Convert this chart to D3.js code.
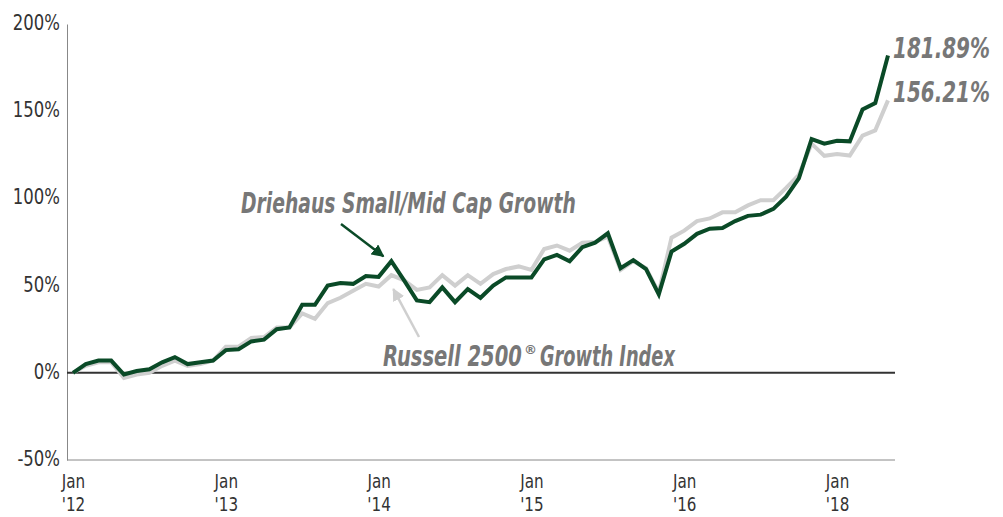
<!DOCTYPE html>
<html>
<head>
<meta charset="utf-8">
<script src="https://cdn.jsdelivr.net/npm/d3@7"></script>
<style>
  body { margin: 0; background: #fff; }
  svg { display: block; }
  .tick text { font-family: "DejaVu Sans", sans-serif; font-size: 22px; fill: #333; }
  .xlab { font-size: 20px !important; }
  .note { font-family: "DejaVu Sans", sans-serif; font-weight: bold; font-style: italic; fill: #777; }
</style>
</head>
<body>
<svg width="1003" height="517"></svg>
<script>
// monthly cumulative returns (%), Jan '12 onward
let driehaus = [0, 5, 7, 7, -1, 1, 2, 6, 9, 5, 6, 7,
    13, 13.5, 18, 19, 25, 26, 39, 39, 50, 51.5, 51, 55.5,
    55, 64, 53, 41.5, 40.5, 49, 40.5, 48, 43, 50, 54.7, 54.7,
    54.7, 65, 67.6, 64, 72, 74.6, 80, 60, 64.6, 59.5, 45, 69.5,
    74, 79.7, 82.6, 83, 87, 90, 90.7, 94, 101, 111.5, 134, 131.4,
    133, 132.7, 151, 154.7, 181.89];
let russell = [0, 4, 6, 6, -3, -1, 0, 4, 7, 4, 5, 7,
    15, 15, 20, 20.5, 26, 26, 34, 31, 40, 43, 47, 51,
    49.5, 56, 53, 47.5, 49, 56, 50, 56, 51, 56.6, 59.5, 61,
    59, 71, 73, 70, 74.6, 75, 78, 59, 64, 60, 46, 77.5,
    81.5, 87, 88.5, 92, 92, 96, 99, 99, 106, 113.5, 131.4, 124.4,
    125.5, 124.6, 136, 139, 156.21];
let tickIdx = [0, 12, 24, 36, 48, 60];
let tickYears = ["'12", "'13", "'14", "'15", "'16", "'18"];
let yTicks = [-50, 0, 50, 100, 150, 200];

let svg = d3.select("svg");
let plotLeft = 67, plotRight = 895, plotTop = 24, plotBottom = 460;

let x = d3.scaleLinear().domain([0, driehaus.length - 1]).range([73, 888]);
let y = d3.scaleLinear().domain([-50, 200]).range([plotBottom, plotTop]);

// the original uses a condensed face, so squeeze text horizontally.
// factor, or a target width in px when width is given
function condense(sel, factor, width) {
    sel.each(function () {
        let t = d3.select(this);
        let f = width ? width / this.getComputedTextLength() : factor;
        let px = +t.attr("x") || 0, py = +t.attr("y") || 0;
        t.attr("x", 0).attr("y", 0)
            .attr("transform", "translate(" + px + "," + py + ") scale(" + f + ",1)");
    });
}

// y axis
let yAxis = svg.append("g")
    .attr("transform", "translate(" + plotLeft + ",0)")
    .call(d3.axisLeft(y).tickValues(yTicks).tickSize(0).tickPadding(7).tickFormat(d => d + "%"));
yAxis.select(".domain").attr("stroke", "#888").attr("stroke-width", 1);
yAxis.selectAll(".tick text").attr("dy", "0.25em");
condense(yAxis.selectAll(".tick text"), 0.75);

// x axis, two-line labels
let xAxis = svg.append("g")
    .attr("transform", "translate(0," + plotBottom + ")")
    .call(d3.axisBottom(x).tickValues(tickIdx).tickSize(0).tickFormat(""));
xAxis.select(".domain").attr("d", "M" + plotLeft + ",0H" + plotRight).attr("stroke", "#888");
xAxis.selectAll(".tick text").remove();
xAxis.selectAll(".tick").each(function (d, i) {
    let g = d3.select(this);
    g.append("text").attr("class", "xlab").attr("text-anchor", "middle").attr("y", 28).text("Jan");
    g.append("text").attr("class", "xlab").attr("text-anchor", "middle").attr("y", 51).text(tickYears[i]);
});
condense(xAxis.selectAll(".tick text"), 0.76);

// zero line
svg.append("line")
    .attr("x1", plotLeft).attr("x2", plotRight)
    .attr("y1", y(0)).attr("y2", y(0))
    .attr("stroke", "#333").attr("stroke-width", 2);

let line = d3.line()
    .x((d, i) => x(i))
    .y(d => y(d));

svg.append("path")
    .datum(russell)
    .attr("fill", "none")
    .attr("stroke", "#cfcfcf")
    .attr("stroke-width", 4)
    .attr("d", line);

svg.append("path")
    .datum(driehaus)
    .attr("fill", "none")
    .attr("stroke", "#0a4a27")
    .attr("stroke-width", 4)
    .attr("d", line);

// end labels
let last = driehaus.length - 1;
let endLabels = svg.selectAll(".endLabel")
    .data([driehaus[last], russell[last]])
    .join("text")
    .attr("class", "note endLabel")
    .attr("x", 893)
    .attr("y", d => y(d) + 2)
    .attr("font-size", 29)
    .text(d => d3.format(".2f")(d) + "%");
condense(endLabels, 0, 97);

// arrow markers
let defs = svg.append("defs");
[["headGreen", "#0a4a27"], ["headGray", "#cfcfcf"]].forEach(function (m) {
    defs.append("marker")
        .attr("id", m[0])
        .attr("viewBox", "0 0 10 10")
        .attr("refX", 9).attr("refY", 5)
        .attr("markerWidth", 5).attr("markerHeight", 5)
        .attr("orient", "auto")
        .append("path")
        .attr("d", "M0,0L10,5L0,10z")
        .attr("fill", m[1]);
});

// annotations
let peak = 25;
condense(svg.append("text").attr("class", "note")
    .attr("x", 241).attr("y", 213)
    .attr("font-size", 28)
    .text("Driehaus Small/Mid Cap Growth"), 0, 335);
svg.append("line")
    .attr("x1", 341).attr("y1", 224)
    .attr("x2", x(peak) - 8).attr("y2", y(driehaus[peak]) - 5)
    .attr("stroke", "#0a4a27").attr("stroke-width", 2.5)
    .attr("marker-end", "url(#headGreen)");

condense(svg.append("text").attr("class", "note")
    .attr("x", 383).attr("y", 366)
    .attr("font-size", 28)
    .text("Russell 2500"), 0, 139);
svg.append("text").attr("class", "note")
    .attr("x", 524).attr("y", 354)
    .attr("font-size", 13)
    .text("®");
condense(svg.append("text").attr("class", "note")
    .attr("x", 540).attr("y", 366)
    .attr("font-size", 28)
    .text("Growth Index"), 0, 135);
svg.append("line")
    .attr("x1", 419).attr("y1", 337)
    .attr("x2", x(peak) + 2).attr("y2", y(russell[peak]) + 14)
    .attr("stroke", "#cfcfcf").attr("stroke-width", 2.5)
    .attr("marker-end", "url(#headGray)");
</script>
</body>
</html>
